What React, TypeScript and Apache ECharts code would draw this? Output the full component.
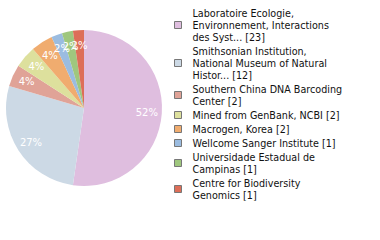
import React, { useEffect, useRef } from "react";
import * as echarts from "echarts";

const categories = [
  "Laboratoire Ecologie,\nEnvironnement, Interactions\ndes Syst...",
  "Smithsonian Institution,\nNational Museum of Natural\nHistor...",
  "Southern China DNA Barcoding\nCenter",
  "Mined from GenBank, NCBI",
  "Macrogen, Korea",
  "Wellcome Sanger Institute",
  "Universidade Estadual de\nCampinas",
  "Centre for Biodiversity\nGenomics",
];
const counts = [23, 12, 2, 2, 2, 1, 1, 1];
const colors = [
  "#dfbedf",
  "#ccd9e5",
  "#e0a397",
  "#dde09d",
  "#f0ac6f",
  "#9bbce0",
  "#9fc77e",
  "#dd6e58",
];

export default function App() {
  const ref = useRef<HTMLDivElement>(null);
  useEffect(() => {
    if (!ref.current) return;
    const chart = echarts.init(ref.current, null, { renderer: "svg" });
    const total = counts.reduce((a, b) => a + b, 0);
    const data = categories.map((name, i) => ({
      name,
      value: counts[i],
      itemStyle: { color: colors[i] },
    }));
    chart.setOption({
      animation: false,
      legend: {
        orient: "vertical",
        left: 174,
        top: 7,
        padding: 0,
        itemWidth: 7,
        itemHeight: 7,
        itemGap: 2,
        icon: "rect",
        selectedMode: false,
        itemStyle: { borderColor: "#777", borderWidth: 1 },
        textStyle: {
          fontFamily: "DejaVu Sans",
          fontSize: 9.6,
          lineHeight: 12,
          color: "#111",
          padding: [0, 0, 0, 6],
        },
        data: categories,
        formatter: (name: string) => {
          const i = categories.indexOf(name);
          return `${name} [${counts[i]}]`;
        },
      },
      series: [
        {
          type: "pie",
          center: [84, 108],
          radius: [0, 78],
          startAngle: 90,
          clockwise: true,
          label: { show: false },
          labelLine: { show: false },
          emphasis: { disabled: true },
          data,
        },
        {
          type: "pie",
          center: [84, 108],
          radius: [42, 78],
          startAngle: 90,
          clockwise: true,
          silent: true,
          avoidLabelOverlap: false,
          labelLayout: { hideOverlap: false },
          itemStyle: { color: "rgba(0,0,0,0)" },
          label: {
            show: true,
            position: "inside",
            color: "#fff",
            fontFamily: "DejaVu Sans",
            fontSize: 10,
            formatter: (p: any) => `${Math.floor((p.value / total) * 100)}%`,
          },
          labelLine: { show: false },
          emphasis: { disabled: true },
          data: categories.map((name, i) => ({
            name,
            value: counts[i],
            itemStyle: { color: "rgba(0,0,0,0)" },
          })),
        },
      ],
    });
    return () => chart.dispose();
  }, []);
  return (
    <div
      ref={ref}
      style={{ position: "absolute", left: 0, top: 0, width: 380, height: 240 }}
    />
  );
}
